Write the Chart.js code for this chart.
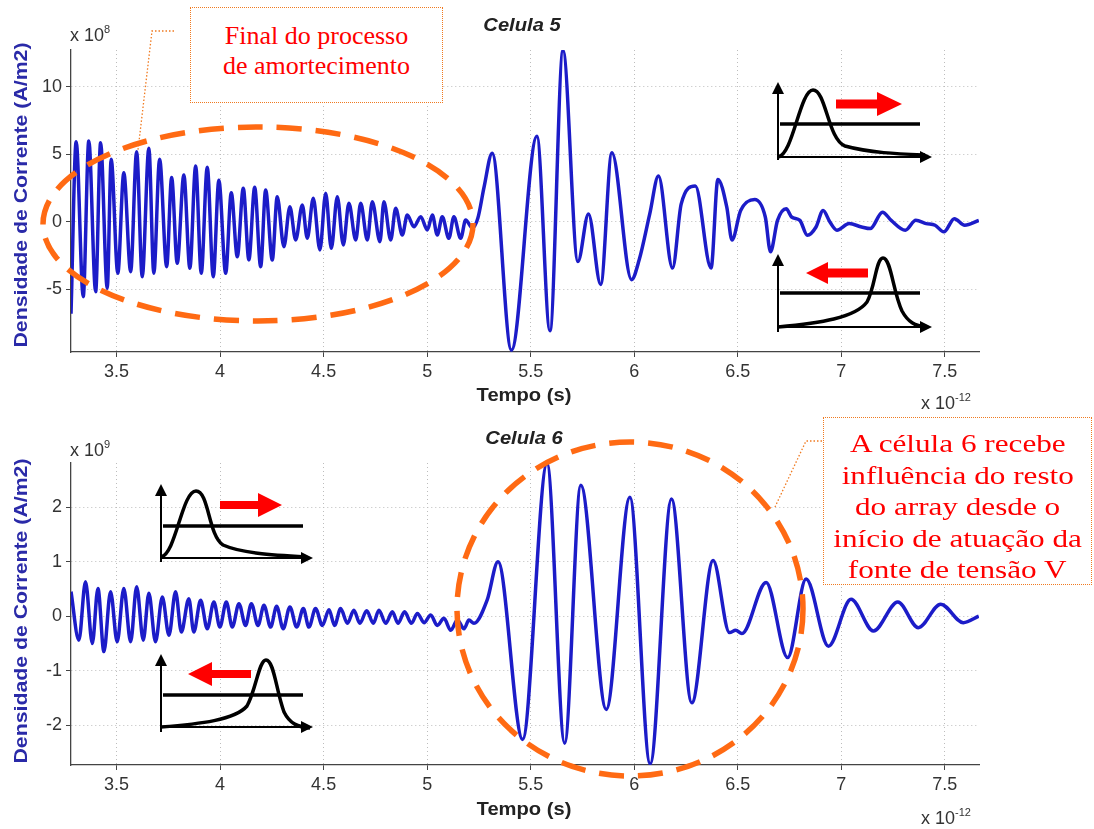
<!DOCTYPE html>
<html lang="pt">
<head>
  <meta charset="UTF-8" />
  <title>Celula 5 / Celula 6</title>
  <script src="https://cdn.jsdelivr.net/npm/chart.js"></script>
  <style>
    body { margin: 0; background: #fff; font-family: "Liberation Sans", Arial, sans-serif; }
    #page { position: relative; width: 1094px; height: 829px; overflow: hidden; }
    canvas { position: absolute; left: 0; }
    .lbl { position: absolute; white-space: nowrap; color: #222; transform: translate(-50%, -50%) scaleX(1.12); }
    .ytitle { position: absolute; white-space: nowrap; color: #2a2aa8; font-weight: bold; font-size: 19px;
              transform: translate(-50%, -50%) rotate(-90deg) scaleX(1.12); }
    .expo { position: absolute; white-space: nowrap; color: #333; font-size: 18px; }
    .expo sup { font-size: 11px; vertical-align: 8px; }
    .note { position: absolute; border: 1px dotted #f07a20; color: #ff0000; background: #fff;
            font-family: "Liberation Serif", "Times New Roman", serif; text-align: center; box-sizing: border-box; }
    .note span { display: inline-block; white-space: nowrap; }
    svg { position: absolute; left: 0; top: 0; }
  </style>
</head>
<body>
<div id="page">
  <canvas id="cell5" width="1094" height="410" style="top:0"></canvas>
  <canvas id="cell6" width="1094" height="419" style="top:410px"></canvas>

  <!-- titles and axis labels -->
  <div class="lbl" style="left:522px; top:25px; font-weight:bold; font-style:italic; font-size:18px;">Celula 5</div>
  <div class="lbl" style="left:524px; top:438px; font-weight:bold; font-style:italic; font-size:18px;">Celula 6</div>
  <div class="lbl" style="left:524px; top:395px; font-weight:bold; font-size:18px;">Tempo (s)</div>
  <div class="lbl" style="left:524px; top:809px; font-weight:bold; font-size:18px;">Tempo (s)</div>
  <div class="ytitle" style="left:21px; top:195px;">Densidade de Corrente (A/m2)</div>
  <div class="ytitle" style="left:21px; top:611px;">Densidade de Corrente (A/m2)</div>
  <div class="expo" style="left:70px; top:23px;">x 10<sup>8</sup></div>
  <div class="expo" style="left:70px; top:438px;">x 10<sup>9</sup></div>
  <div class="expo" style="left:921px; top:391px;">x 10<sup>-12</sup></div>
  <div class="expo" style="left:921px; top:806px;">x 10<sup>-12</sup></div>

  <!-- annotations -->
  <svg width="1094" height="829">
    <defs>
      <marker id="blk" markerWidth="6" markerHeight="6" refX="1" refY="3" orient="auto" markerUnits="strokeWidth">
        <path d="M0,0 L6,3 L0,6 z" fill="#000"/>
      </marker>
    </defs>
    <g fill="none" stroke="#f07a20" stroke-width="1.3" stroke-dasharray="1.5 2">
      <polyline points="174,31 152,31 138,150"/>
      <polyline points="822,441 806,441 775,507"/>
    </g>
    <g fill="none" stroke="#ff6a13" stroke-width="5.5" stroke-dasharray="25 14">
      <ellipse cx="258" cy="224" rx="215" ry="97"/>
      <ellipse cx="630" cy="609" rx="173" ry="167"/>
    </g>

    <!-- inset: pulse moving right (Celula 5) -->
    <g stroke="#000" fill="none">
      <line x1="778" y1="160" x2="778" y2="92" stroke-width="2" marker-end="url(#blk)"/>
      <line x1="777" y1="157" x2="922" y2="157" stroke-width="2" marker-end="url(#blk)"/>
      <line x1="780" y1="124" x2="920" y2="124" stroke-width="3.5"/>
      <path d="M778,157 C793,155 800,90 813,90 C826,90 828,140 845,146 C870,153 900,154 925,155" stroke-width="3.5"/>
    </g>
    <path d="M836,99.5 H877 V92 L902,104 L877,116 V108.5 H836 z" fill="#ff0000"/>

    <!-- inset: pulse moving left (Celula 5) -->
    <g stroke="#000" fill="none">
      <line x1="778" y1="332" x2="778" y2="264" stroke-width="2" marker-end="url(#blk)"/>
      <line x1="777" y1="327" x2="922" y2="327" stroke-width="2" marker-end="url(#blk)"/>
      <line x1="780" y1="293" x2="920" y2="293" stroke-width="3.5"/>
      <path d="M778,327 C820,323 855,318 867,302 C875,288 876,258 883,258 C891,258 893,292 902,311 C908,322 915,326 926,327" stroke-width="3.5"/>
    </g>
    <path d="M868,268.5 H828 V262 L806,273 L828,284 V277.5 H868 z" fill="#ff0000"/>

    <!-- inset: pulse moving right (Celula 6) -->
    <g stroke="#000" fill="none">
      <line x1="161" y1="562" x2="161" y2="494" stroke-width="2" marker-end="url(#blk)"/>
      <line x1="160" y1="558" x2="303" y2="558" stroke-width="2" marker-end="url(#blk)"/>
      <line x1="163" y1="526" x2="303" y2="526" stroke-width="3.5"/>
      <path d="M161,557 C176,554 182,491 196,491 C209,491 208,535 223,545 C241,553 270,555 306,557" stroke-width="3.5"/>
    </g>
    <path d="M220,501 H258 V493 L282,505 L258,517 V509 H220 z" fill="#ff0000"/>

    <!-- inset: pulse moving left (Celula 6) -->
    <g stroke="#000" fill="none">
      <line x1="161" y1="732" x2="161" y2="664" stroke-width="2" marker-end="url(#blk)"/>
      <line x1="160" y1="727" x2="303" y2="727" stroke-width="2" marker-end="url(#blk)"/>
      <line x1="163" y1="695" x2="303" y2="695" stroke-width="3.5"/>
      <path d="M161,727 C200,724 235,720 247,706 C256,690 259,660 266,660 C274,660 276,690 284,712 C290,724 298,727 310,728" stroke-width="3.5"/>
    </g>
    <path d="M251,670 H212 V662 L188,674 L212,686 V678 H251 z" fill="#ff0000"/>
  </svg>

  <div class="note" style="left:190px; top:7px; width:253px; height:96px; font-size:26px; line-height:30px; padding-top:13px;">
    Final do processo<br>de amortecimento
  </div>
  <div class="note" style="left:823px; top:417px; width:269px; height:168px; font-size:26px; line-height:31.5px; padding-top:10px;">
    <span style="transform:scaleX(1.2)">A célula 6 recebe</span><br>
    <span style="transform:scaleX(1.2)">influência do resto</span><br>
    <span style="transform:scaleX(1.2)">do array desde o</span><br>
    <span style="transform:scaleX(1.2)">início de atuação da</span><br>
    <span style="transform:scaleX(1.2)">fonte de tensão V</span>
  </div>
</div>

<script>
  // time axis (x 10^-12 s)
  const timeTicks = [3.5, 4, 4.5, 5, 5.5, 6, 6.5, 7, 7.5];
  const timeMin = 3.28;
  const timeMax = 7.665;

  // Celula 5, current density x 10^8 A/m2
  const cell5Time = [3.28, 3.305, 3.339, 3.366, 3.399, 3.423, 3.455, 3.474, 3.506, 3.535, 3.568,
    3.597, 3.624, 3.656, 3.680, 3.708, 3.742, 3.766, 3.793, 3.825, 3.854,
    3.882, 3.909, 3.938, 3.967, 3.994, 4.027, 4.054, 4.083, 4.112, 4.139,
    4.167, 4.196, 4.220, 4.252, 4.276, 4.308, 4.337, 4.365, 4.397, 4.421,
    4.450, 4.482, 4.510, 4.537, 4.566, 4.595, 4.622, 4.655, 4.679, 4.711,
    4.735, 4.772, 4.791, 4.824, 4.848, 4.880, 4.904, 4.936, 4.969, 5.001,
    5.025, 5.049, 5.073, 5.105, 5.129, 5.162, 5.186, 5.218, 5.245, 5.275,
    5.314, 5.407, 5.530, 5.593, 5.656, 5.728, 5.779, 5.838, 5.892, 5.987,
    6.024, 6.075, 6.117, 6.185, 6.227, 6.295, 6.371, 6.404, 6.447, 6.472,
    6.514, 6.582, 6.633, 6.658, 6.692, 6.734, 6.760, 6.800, 6.836, 6.878,
    6.912, 6.945, 6.979, 7.038, 7.098, 7.140, 7.199, 7.241, 7.309, 7.360,
    7.410, 7.453, 7.495, 7.546, 7.596, 7.664];
  const cell5Current = [-6.8, 5.95, -5.53, 6.0, -5.16, 5.87, -4.91, 4.64, -3.8, 3.65, -3.68,
    5.2, -4.05, 5.46, -3.8, 4.64, -3.31, 3.3, -3.06, 3.48, -3.43,
    4.15, -3.8, 4.05, -4.05, 3.1, -3.8, 2.17, -2.57, 2.5, -2.81,
    2.57, -3.31, 2.37, -2.81, 1.87, -1.83, 1.13, -1.33, 1.26, -1.21,
    1.75, -2.07, 2.12, -1.95, 1.87, -1.7, 1.38, -1.33, 1.38, -1.33,
    1.5, -1.46, 1.5, -1.33, 1.01, -0.96, 0.52, -0.35, 0.39, -0.59,
    0.52, -0.96, 0.39, -1.21, 0.39, -1.21, 0.15, -0.44, 0.3, 2.6,
    5.1, -9.5, 6.35, -8.05, 12.7, -2.93, 0.6, -4.63, 5.12, -4.27,
    -2.8, 0.6, 3.4, -3.41, 1.34, 2.66, -3.41, 3.15, 1.1, -1.34,
    0.85, 1.67, 0.37, -2.2, 0.12, 0.98, 0.37, 0.12, -0.98, -0.37,
    0.85, 0, -0.61, -0.12, -0.37, -0.49, 0.73, 0.12, -0.61, 0.12,
    -0.12, -0.24, -0.73, 0.24, -0.24, 0.12];
  const cell5Ticks = [-5, 0, 5, 10];

  // Celula 6, current density x 10^9 A/m2
  const cell6Time = [3.28, 3.318, 3.350, 3.383, 3.410, 3.439, 3.471, 3.503, 3.535, 3.568,
    3.597, 3.629, 3.656, 3.688, 3.721, 3.753, 3.785, 3.813, 3.849, 3.873,
    3.906, 3.938, 3.970, 3.999, 4.030, 4.059, 4.091, 4.123, 4.151, 4.183,
    4.212, 4.244, 4.273, 4.305, 4.337, 4.370, 4.402, 4.429, 4.461, 4.494,
    4.526, 4.553, 4.582, 4.615, 4.646, 4.675, 4.708, 4.740, 4.767, 4.800,
    4.832, 4.859, 4.891, 4.924, 4.953, 4.985, 5.017, 5.049, 5.081, 5.114,
    5.146, 5.178, 5.202, 5.226, 5.290, 5.342, 5.461, 5.579, 5.664, 5.742,
    5.865, 5.979, 6.077, 6.180, 6.278, 6.381, 6.460, 6.490, 6.520, 6.637,
    6.741, 6.830, 6.938, 7.047, 7.155, 7.273, 7.372, 7.480, 7.589, 7.664];
  const cell6Current = [0.45, -0.44, 0.63, -0.5, 0.51, -0.65, 0.45, -0.47, 0.51, -0.47,
    0.54, -0.44, 0.42, -0.47, 0.35, -0.35, 0.45, -0.29, 0.32, -0.29,
    0.29, -0.23, 0.26, -0.2, 0.26, -0.2, 0.23, -0.17, 0.23, -0.17,
    0.2, -0.2, 0.18, -0.23, 0.17, -0.2, 0.14, -0.2, 0.14, -0.17,
    0.12, -0.17, 0.14, -0.13, 0.11, -0.13, 0.1, -0.13, 0.11, -0.13,
    0.08, -0.13, 0.08, -0.13, 0.05, -0.12, 0.02, -0.17, -0.04, -0.26,
    -0.07, -0.23, -0.07, -0.13, 0.3, 1.0, -2.26, 2.8, -2.33, 2.4,
    -1.71, 2.18, -2.71, 2.15, -1.59, 1.02, -0.3, -0.26, -0.32, 0.62,
    -0.76, 0.68, -0.55, 0.31, -0.27, 0.26, -0.21, 0.22, -0.12, 0.0];
  const cell6Ticks = [-2, -1, 0, 1, 2];

  Chart.defaults.font.family = '"Liberation Sans", Arial, sans-serif';
  Chart.defaults.font.size = 18;
  Chart.defaults.color = '#333';

  function makeChart(id, times, values, yMin, yMax, yTicks, padTop, xHeight) {
    const gridOpts = { color: '#bdbdbd', lineWidth: 1, tickColor: '#444', tickLength: 5 };
    const borderOpts = { display: true, color: '#444', width: 1.3, dash: [1, 3] };
    return new Chart(document.getElementById(id), {
      type: 'line',
      data: {
        datasets: [{
          data: times.map((t, i) => ({ x: t, y: values[i] })),
          borderColor: 'rgb(28, 28, 200)',
          borderWidth: 3.5,
          pointRadius: 0,
          cubicInterpolationMode: 'monotone',
          fill: false
        }]
      },
      options: {
        responsive: false,
        animation: false,
        devicePixelRatio: 1,
        layout: { padding: { top: padTop, right: 115, left: 0, bottom: 0 } },
        plugins: { legend: { display: false }, tooltip: { enabled: false } },
        scales: {
          x: {
            type: 'linear', min: timeMin, max: timeMax,
            afterBuildTicks: s => { s.ticks = timeTicks.map(v => ({ value: v })); },
            afterFit: s => { s.height = xHeight; },
            ticks: { padding: 4, maxRotation: 0, callback: v => String(v) },
            grid: gridOpts, border: borderOpts
          },
          y: {
            min: yMin, max: yMax,
            afterBuildTicks: s => { s.ticks = yTicks.map(v => ({ value: v })); },
            afterFit: s => { s.width = 71; },
            ticks: { padding: 4, callback: v => String(v) },
            grid: gridOpts, border: borderOpts
          }
        }
      }
    });
  }

  makeChart('cell5', cell5Time, cell5Current, -9.63, 12.74, cell5Ticks, 50, 58);
  makeChart('cell6', cell6Time, cell6Current, -2.73, 2.81, cell6Ticks, 53, 64);
</script>
</body>
</html>
